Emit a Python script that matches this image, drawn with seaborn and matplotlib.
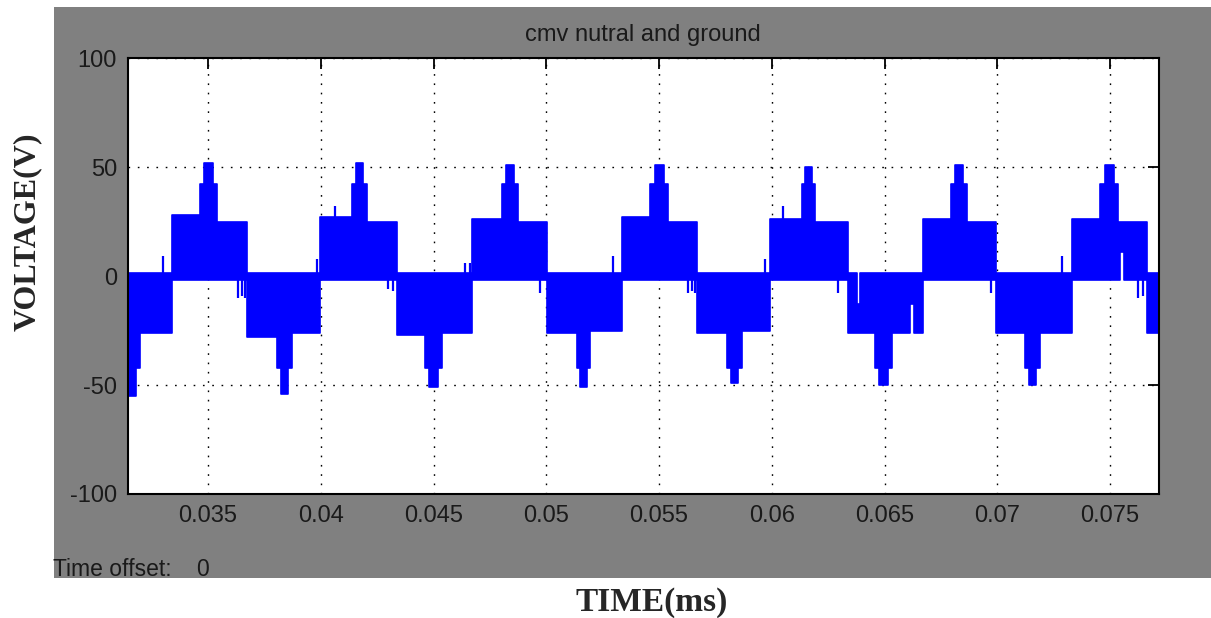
import matplotlib
matplotlib.use("Agg")
import matplotlib.pyplot as plt
from matplotlib.patches import Rectangle
import numpy as np
import pandas as pd
import seaborn as sns

# ---- common-mode voltage between neutral and ground (scope capture) ----
# switching blocks: time span [s] and envelope level before / after the mid spike [V]
block_start = [0.0310, 0.03340, 0.03673, 0.03997, 0.04338, 0.04671, 0.05003, 0.05336,
               0.05669, 0.05992, 0.06338, 0.06671, 0.06994, 0.07331, 0.07664]
block_end = [0.03340, 0.03673, 0.03997, 0.04338, 0.04671, 0.05003, 0.05336, 0.05669,
             0.05992, 0.06338, 0.06671, 0.06994, 0.07331, 0.07664, 0.0780]
block_pre = [-26, 28, -28, 27, -27, 26, -26, 27, -26, 26, -26, 26, -26, 26, -26]
block_post = [-26, 25, -26, 25, -26, 25, -25, 25, -25, 25, -26, 25, -26, 25, -26]

# mid-block spikes: time span [s] and peak voltage [V]
spike_start = [0.03120, 0.03465, 0.03806, 0.04139, 0.04462, 0.04804, 0.05136,
               0.05460, 0.05802, 0.06134, 0.06458, 0.06795, 0.07123, 0.07456]
spike_end = [0.03198, 0.03540, 0.03873, 0.04205, 0.04538, 0.04875, 0.05194,
             0.05540, 0.05868, 0.06192, 0.06533, 0.06866, 0.07190, 0.07535]
spike_peak = [-55, 52, -54, 52, -51, 51, -51, 51, -49, 50, -50, 51, -50, 51]
spike_shoulder = 42

# isolated glitches at block transitions: time [s] and tip voltage [V]
glitch_t = [0.03300, 0.03633, 0.03650, 0.03664, 0.03983, 0.04063, 0.04298, 0.04320,
            0.04640, 0.04662, 0.04972, 0.05296, 0.05629, 0.05645, 0.05660, 0.05970,
            0.06050, 0.06294, 0.06972, 0.07287, 0.07624, 0.07646]
glitch_v = [9, -10, -9, -10, 8, 32, -6, -7, 6, 6, -8, 9, -8, -7, -8, 8,
            32, -8, -8, 9, -10, -9]

# short gaps inside blocks: time span [s], which edge moves, new edge voltage [V]
notch_start = [0.06379, 0.06615, 0.07546]
notch_end = [0.06389, 0.06630, 0.07562]
notch_edge = ["hi", "lo", "lo"]
notch_value = [-13, -13, 11]

pos_floor = -2.0     # lower edge of a positive block
neg_ceiling = 1.5    # upper edge of a negative block

x_ticks = [0.035, 0.04, 0.045, 0.05, 0.055, 0.06, 0.065, 0.07, 0.075]
x_tick_labels = ["0.035", "0.04", "0.045", "0.05", "0.055", "0.06", "0.065", "0.07", "0.075"]
y_ticks = [-100, -50, 0, 50, 100]
y_tick_labels = ["-100", "-50", "0", "50", "100"]

BLUE = "#0000ff"
INK = "#1a1a1a"

# ---- build the stepped envelope from the segments ----
inner_a = [a + 0.25 * (b - a) for a, b in zip(spike_start, spike_end)]
inner_b = [b - 0.25 * (b - a) for a, b in zip(spike_start, spike_end)]
breaks = sorted(set(block_start + block_end + spike_start + spike_end +
                    inner_a + inner_b + notch_start + notch_end))

lo_vals, hi_vals = [], []
for i in range(len(breaks) - 1):
    m = 0.5 * (breaks[i] + breaks[i + 1])
    k = next(j for j in range(len(block_start)) if block_start[j] <= m < block_end[j])
    centers = [0.5 * (a + b) for a, b in zip(spike_start, spike_end)
               if block_start[k] <= 0.5 * (a + b) < block_end[k]]
    level = block_pre[k]
    if centers and m > centers[0]:
        level = block_post[k]
    if level > 0:
        lo, hi = pos_floor, level
    else:
        lo, hi = level, neg_ceiling
    for a, b, ia, ib, p in zip(spike_start, spike_end, inner_a, inner_b, spike_peak):
        if a <= m < b:
            v = p if ia <= m < ib else np.sign(p) * spike_shoulder
            if p > 0:
                hi = max(hi, v)
            else:
                lo = min(lo, v)
    for a, b, e, v in zip(notch_start, notch_end, notch_edge, notch_value):
        if a <= m < b:
            if e == "hi":
                hi = v
            else:
                lo = v
    lo_vals.append(lo)
    hi_vals.append(hi)
lo_vals.append(lo_vals[-1])
hi_vals.append(hi_vals[-1])

env = pd.DataFrame({"t": breaks, "lo": lo_vals, "hi": hi_vals})

# ---- figure ----
sns.set_style("white")
plt.rcParams["font.family"] = ["Liberation Sans", "DejaVu Sans"]
plt.rcParams["axes.unicode_minus"] = False

W, H = 1211, 618
fig = plt.figure(figsize=(W / 100, H / 100), dpi=100, facecolor="white")

# scope window background
fig.patches.append(Rectangle((54 / W, (H - 578) / H), (W - 54) / W, (578 - 7) / H,
                             transform=fig.transFigure, facecolor="#808080",
                             edgecolor="none", zorder=-5))

ax = fig.add_axes([128 / W, (H - 494) / H, (1159 - 128) / W, (494 - 58) / H])
ax.set_zorder(2)
ax.set_facecolor("white")

ax.fill_between(env["t"], env["lo"], env["hi"], step="post", color=BLUE, lw=0, zorder=3)
sns.lineplot(data=env, x="t", y="hi", drawstyle="steps-post", color=BLUE, lw=1.2,
             estimator=None, sort=False, ax=ax, zorder=3)
sns.lineplot(data=env, x="t", y="lo", drawstyle="steps-post", color=BLUE, lw=1.2,
             estimator=None, sort=False, ax=ax, zorder=3)
ax.vlines(glitch_t, 0, glitch_v, color=BLUE, lw=1.6, zorder=3)

ax.set_xlim(0.03145, 0.07717)
ax.set_ylim(-100, 100)
ax.set_xticks(x_ticks)
ax.set_xticklabels(x_tick_labels)
ax.set_yticks(y_ticks)
ax.set_yticklabels(y_tick_labels)
ax.set_xlabel("")
ax.set_ylabel("")

ax.grid(True, color="black", linestyle=(0, (1.2, 5.5)), lw=1.0, zorder=1)
ax.set_axisbelow(True)
ax.tick_params(direction="in", length=8, width=1.3, top=True, right=True,
               labelsize=17, pad=8, colors="black", labelcolor=INK)
for s in ax.spines.values():
    s.set_color("black")
    s.set_linewidth(1.5)
    s.set_zorder(5)

fig.text(643 / W, 1 - 35 / H, "cmv nutral and ground", ha="center", va="center",
         fontsize=17, color=INK)
fig.text(53 / W, 1 - 569 / H, "Time offset:", ha="left", va="center",
         fontsize=16.5, color=INK)
fig.text(196 / W, 1 - 569 / H, "0", ha="left", va="center",
         fontsize=16.5, color=INK)

fig.text(27 / W, 1 - 232 / H, "VOLTAGE(V)", rotation=90, ha="center", va="center",
         fontsize=23, fontweight="bold", family=["Liberation Serif", "DejaVu Serif"])
fig.text(652 / W, 1 - 603 / H, "TIME(ms)", ha="center", va="center",
         fontsize=24, fontweight="bold", family=["Liberation Serif", "DejaVu Serif"])

fig.savefig("out.png", dpi=100, facecolor="white")
